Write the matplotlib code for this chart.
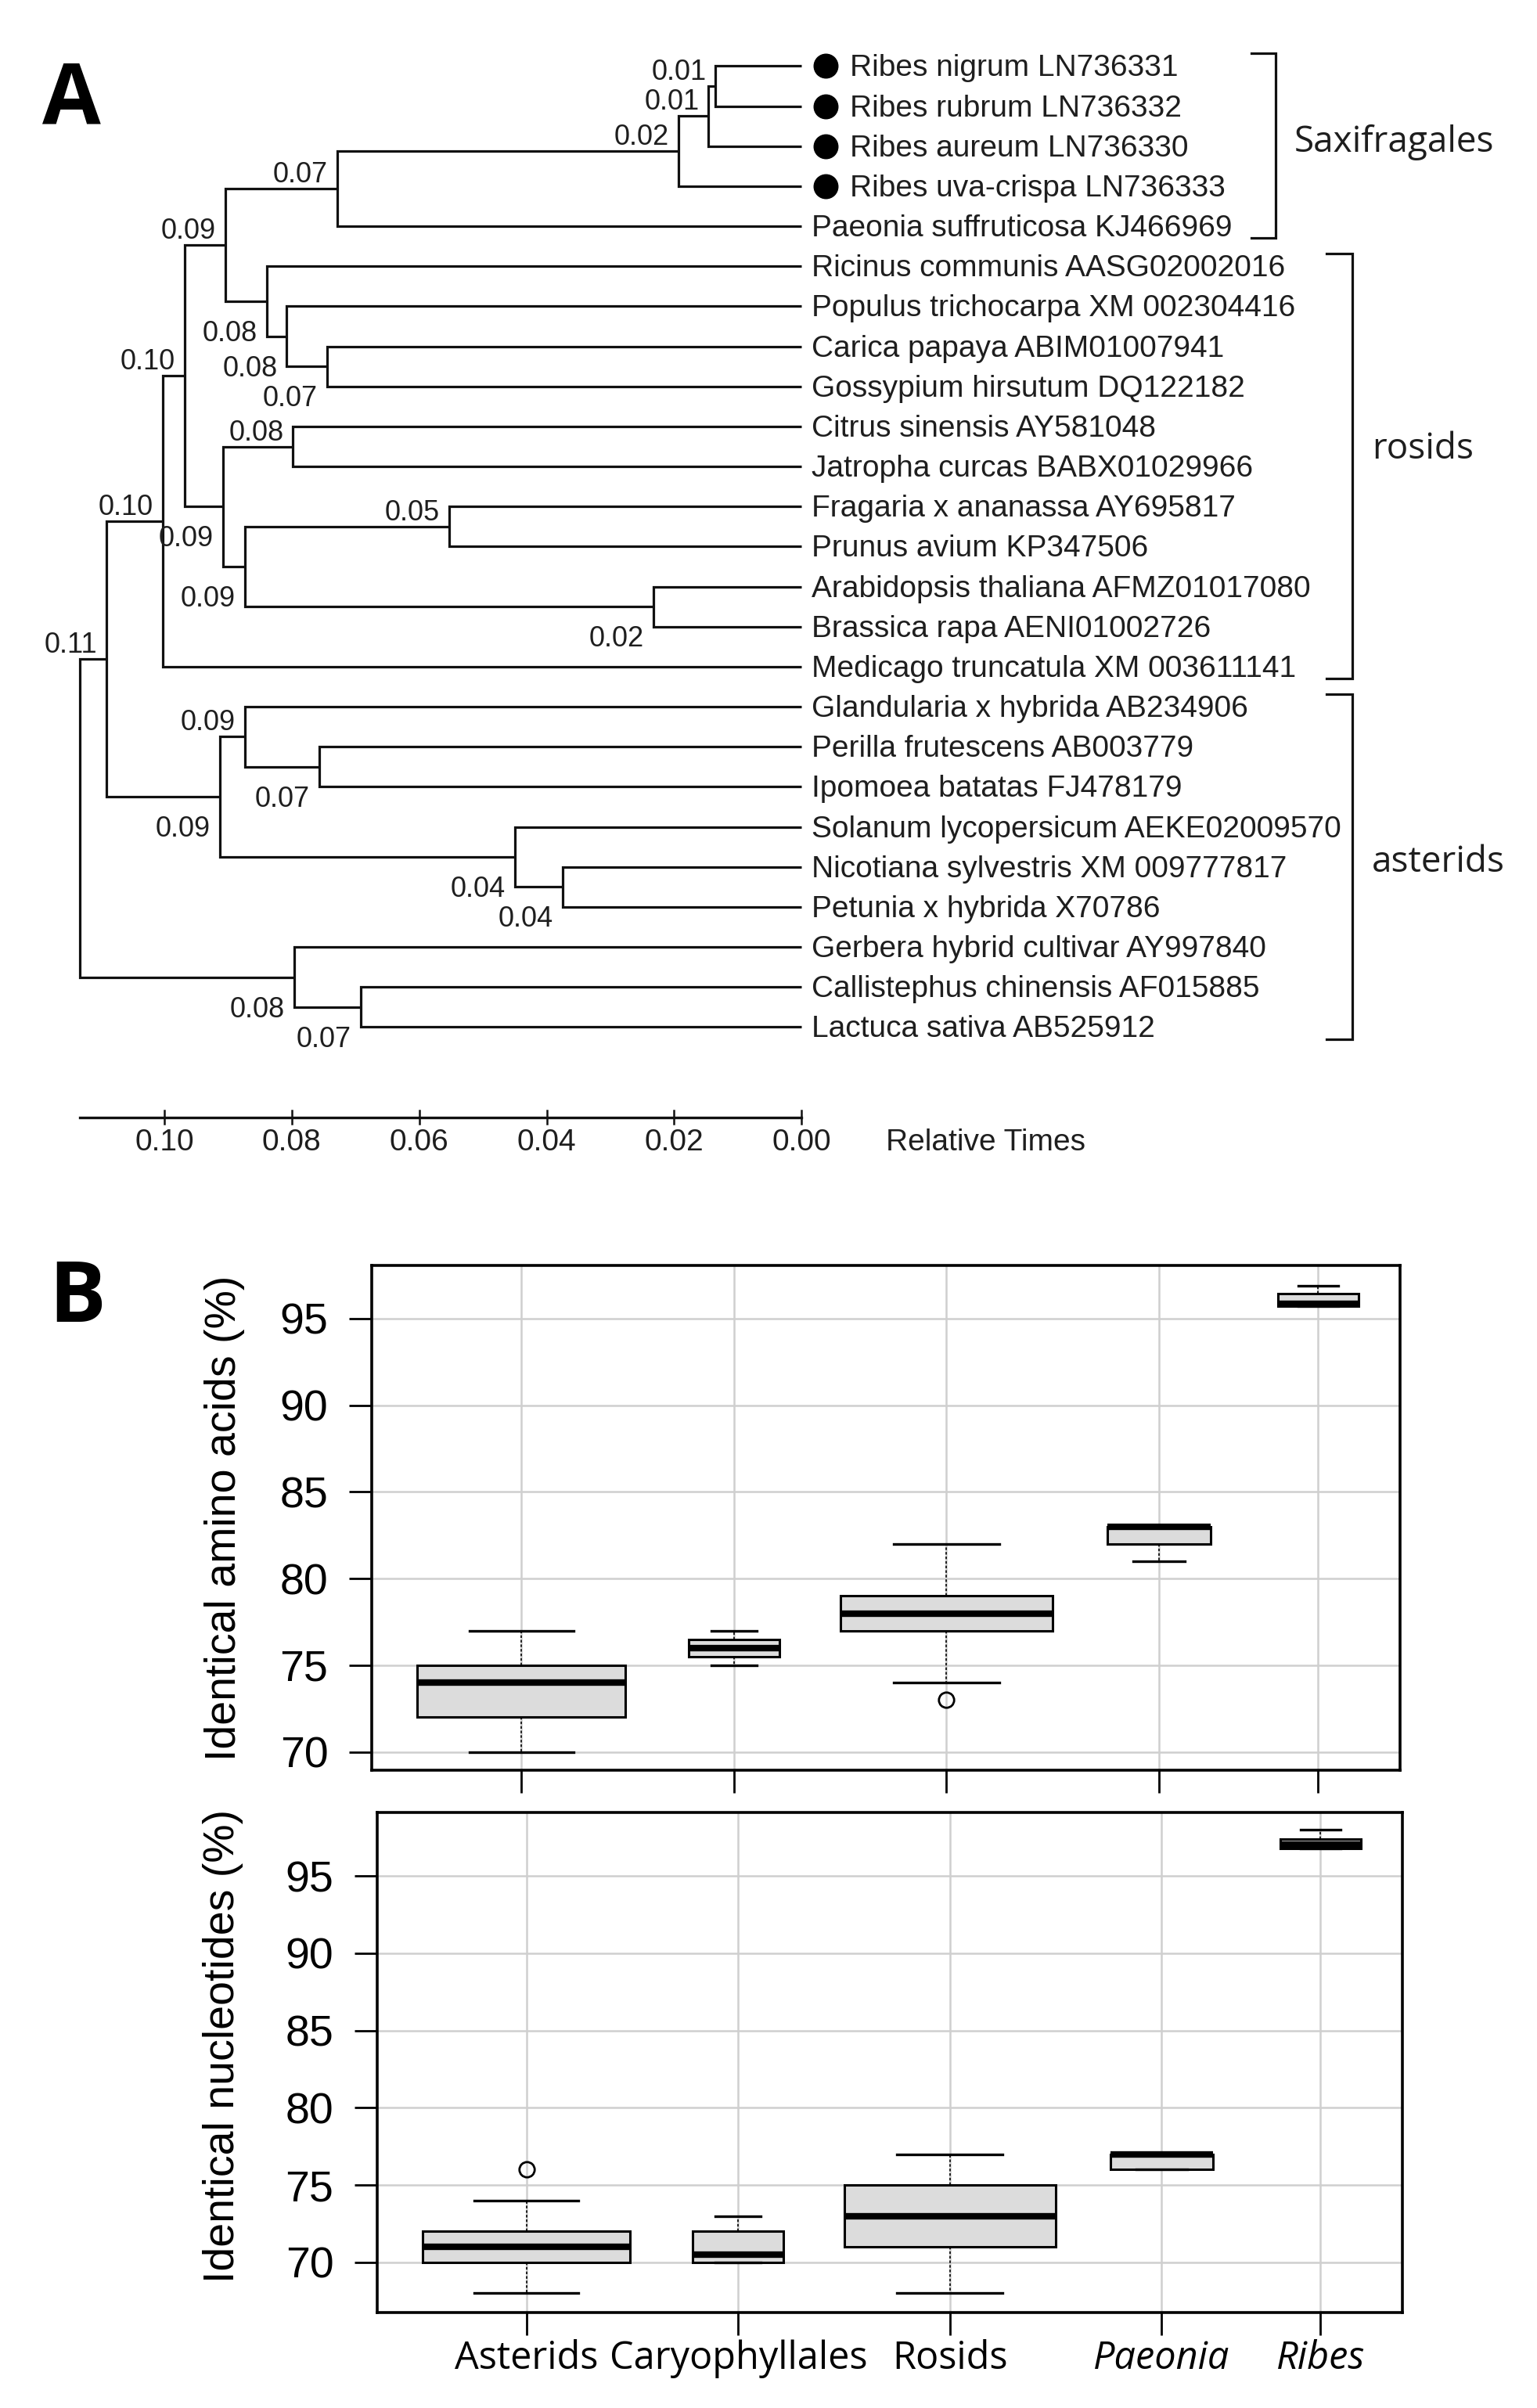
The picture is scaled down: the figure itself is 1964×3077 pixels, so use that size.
import matplotlib
matplotlib.use("Agg")
import matplotlib.pyplot as plt
from matplotlib.transforms import offset_copy

plt.rcParams["font.family"] = ["Liberation Sans", "DejaVu Sans"]

# ---------------- panel A: time tree ----------------
leaves = [
    "Ribes nigrum LN736331",
    "Ribes rubrum LN736332",
    "Ribes aureum LN736330",
    "Ribes uva-crispa LN736333",
    "Paeonia suffruticosa KJ466969",
    "Ricinus communis AASG02002016",
    "Populus trichocarpa XM 002304416",
    "Carica papaya ABIM01007941",
    "Gossypium hirsutum DQ122182",
    "Citrus sinensis AY581048",
    "Jatropha curcas BABX01029966",
    "Fragaria x ananassa AY695817",
    "Prunus avium KP347506",
    "Arabidopsis thaliana AFMZ01017080",
    "Brassica rapa AENI01002726",
    "Medicago truncatula XM 003611141",
    "Glandularia x hybrida AB234906",
    "Perilla frutescens AB003779",
    "Ipomoea batatas FJ478179",
    "Solanum lycopersicum AEKE02009570",
    "Nicotiana sylvestris XM 009777817",
    "Petunia x hybrida X70786",
    "Gerbera hybrid cultivar AY997840",
    "Callistephus chinensis AF015885",
    "Lactuca sativa AB525912",
]
marked_leaves = [0, 1, 2, 3]  # Ribes sequences (black dots)

# internal nodes, children listed before parents (ints = leaf index)
node_names = ["nr", "nra", "ribes", "sax", "car", "pop", "ric", "n4",
              "cit", "fra", "ara", "fp", "n5", "n3", "n2",
              "per", "gla", "pet", "sol", "ast", "n1", "cal", "ger", "root"]
node_kids = [(0, 1), ("nr", 2), ("nra", 3), ("ribes", 4), (7, 8), (6, "car"),
             (5, "pop"), ("sax", "ric"), (9, 10), (11, 12), (13, 14),
             ("fra", "ara"), ("cit", "fp"), ("n4", "n5"), ("n3", 15),
             (17, 18), (16, "per"), (20, 21), (19, "pet"), ("gla", "sol"),
             ("n2", "ast"), (23, 24), (22, "cal"), ("n1", "ger")]
node_ages = [0.0135, 0.0146, 0.0193, 0.0729, 0.0745, 0.0808, 0.0839, 0.0904,
             0.0798, 0.0553, 0.0232, 0.0874, 0.0908, 0.0968, 0.1003,
             0.0757, 0.0874, 0.0375, 0.0450, 0.0913, 0.1091, 0.0692, 0.0796,
             0.1133]
node_labels = ["0.01", "0.01", "0.02", "0.07", "0.07", "0.08", "0.08", "0.09",
               "0.08", "0.05", "0.02", "0.09", "0.09", "0.10", "0.10",
               "0.07", "0.09", "0.04", "0.04", "0.09", "0.11", "0.07", "0.08", ""]

group_names = ["Saxifragales", "rosids", "asterids"]
group_first = [0, 5, 16]
group_last = [4, 15, 24]

time_ticks = [0.10, 0.08, 0.06, 0.04, 0.02, 0.00]

# ---------------- panel B: box plots ----------------
groups = ["Asterids", "Caryophyllales", "Rosids", "Paeonia", "Ribes"]

aa_q1 = [72, 75.5, 77, 82, 95.7]
aa_med = [74, 76, 78, 83, 95.85]
aa_q3 = [75, 76.5, 79, 83, 96.45]
aa_lo = [70, 75, 74, 81, 95.7]
aa_hi = [77, 77, 82, 83, 96.9]
aa_out = [[], [], [73], [], []]

nt_q1 = [70, 70, 71, 76, 96.75]
nt_med = [71, 70.5, 73, 77, 97]
nt_q3 = [72, 72, 75, 77, 97.4]
nt_lo = [68, 70, 68, 76, 96.75]
nt_hi = [74, 73, 77, 77, 98]
nt_out = [[76], [], [], [], []]

# ---------------- layout ----------------
W, H, DPI = 1964, 3077, 100
fig = plt.figure(figsize=(W / DPI, H / DPI), dpi=DPI)

T0_PX, PX_PER_T = 1024.2, 8142.0   # x pixel of time 0, pixels per time unit
ROW0_PX, ROW_PX = 84.4, 51.17      # y pixel of first leaf, row spacing
TREE_H = 1500


def tx(px):
    return (T0_PX - px) / PX_PER_T


ax_t = fig.add_axes([0, 1 - TREE_H / H, 1, TREE_H / H])
ax_t.set_xlim(tx(0), tx(W))
ax_t.set_ylim((TREE_H - ROW0_PX) / ROW_PX, -ROW0_PX / ROW_PX)
ax_t.axis("off")

line_c = "#111111"
text_c = "#1e1e1e"

ypos = {i: float(i) for i in range(len(leaves))}
age = {i: 0.0 for i in range(len(leaves))}
for name, kids, a in zip(node_names, node_kids, node_ages):
    ypos[name] = (ypos[kids[0]] + ypos[kids[1]]) / 2
    age[name] = a

for name, (a, b) in zip(node_names, node_kids):
    ax_t.plot([age[a], age[name], age[name], age[b]],
              [ypos[a], ypos[a], ypos[b], ypos[b]],
              color=line_c, lw=2.3, solid_joinstyle="miter",
              solid_capstyle="butt")

label_below = [False, False, False, False, True, True, True, False,
               False, False, True, True, True, False, False,
               True, False, True, True, True, False, True, True, False]
tr_above = offset_copy(ax_t.transData, fig=fig, x=-12, y=8, units="dots")
tr_below = offset_copy(ax_t.transData, fig=fig, x=-12, y=-51, units="dots")
for name, lab, below in zip(node_names, node_labels, label_below):
    ax_t.text(age[name], ypos[name], lab, ha="right", va="baseline",
              fontsize=26, color=text_c,
              transform=tr_below if below else tr_above)

# leaf names
tr_leaf = offset_copy(ax_t.transData, fig=fig, x=13, y=-13, units="dots")
tr_leaf_dot = offset_copy(ax_t.transData, fig=fig, x=62, y=-13, units="dots")
tr_dot = offset_copy(ax_t.transData, fig=fig, x=31, y=0, units="dots")
for i, name in enumerate(leaves):
    marked = i in marked_leaves
    ax_t.text(0, i, name, ha="left", va="baseline", fontsize=28,
              color=text_c, transform=tr_leaf_dot if marked else tr_leaf)
    if marked:
        ax_t.plot(0, i, "o", color="black", markersize=22, transform=tr_dot)

# group brackets
bracket_px = [(1599, 1630, 1654), (1695, 1728, 1753), (1695, 1728, 1753)]
group_label_rows = [1.9, 9.57, 19.89]
for gname, first, last, (p_tick, p_vert, p_text), lrow in zip(
        group_names, group_first, group_last, bracket_px, group_label_rows):
    top, bot = first - 0.32, last + 0.3
    ax_t.plot([tx(p_tick), tx(p_vert), tx(p_vert), tx(p_tick)],
              [top, top, bot, bot], color=line_c, lw=2.3,
              solid_joinstyle="miter")
    ax_t.text(tx(p_text), lrow, gname, ha="left", va="center", fontsize=33,
              family="Open Sans", color=text_c)

# time scale
axis_row = 26.25
root_age = node_ages[-1]
ax_t.plot([root_age, 0], [axis_row, axis_row], color=line_c, lw=2.4)
tr_tick = offset_copy(ax_t.transData, fig=fig, x=0, y=-42, units="dots")
for v in time_ticks:
    ax_t.plot([v, v], [axis_row - 0.17, axis_row + 0.17], color=line_c, lw=1.8)
    ax_t.text(v, axis_row, f"{v:.2f}", ha="center", va="baseline",
              fontsize=28, color=text_c, transform=tr_tick)
ax_t.text(tx(1132), axis_row, "Relative Times", ha="left", va="baseline",
          fontsize=28, color=text_c, transform=tr_tick)

fig.text(54 / W, 1 - 157 / H, "A", ha="left", va="baseline", fontsize=78,
         fontweight="bold", family="Open Sans")
fig.text(62 / W, 1 - 1689 / H, "B", ha="left", va="baseline", fontsize=78,
         fontweight="bold", family="Open Sans")

# ---------------- box plots ----------------
group_pos = [1, 2, 3, 4, 4.75]
box_widths = [0.98, 0.43, 1.0, 0.485, 0.38]


def box_panel(rect, q1, med, q3, lo, hi, out, ylim, show_labels):
    ax = fig.add_axes(rect)
    stats = [dict(q1=a, med=m, q3=b, whislo=l, whishi=h, fliers=o)
             for a, m, b, l, h, o in zip(q1, med, q3, lo, hi, out)]
    ax.bxp(stats, positions=group_pos, widths=box_widths,
           capwidths=[w / 2 for w in box_widths], patch_artist=True,
           boxprops=dict(facecolor="#dcdcdc", edgecolor="black", linewidth=2.2),
           medianprops=dict(color="black", linewidth=6, solid_capstyle="butt"),
           whiskerprops=dict(color="black", linewidth=1.2,
                             linestyle=(0, (2, 1.5))),
           capprops=dict(color="black", linewidth=2.4),
           flierprops=dict(marker="o", markerfacecolor="none",
                           markeredgecolor="black", markersize=14,
                           markeredgewidth=2),
           zorder=3)
    ax.set_xlim(0.295, 5.135)
    ax.set_ylim(*ylim)
    ax.set_yticks([70, 75, 80, 85, 90, 95])
    ax.set_xticks(group_pos)
    ax.grid(True, color="#cfcfcf", lw=1.8)
    ax.set_axisbelow(True)
    for s in ax.spines.values():
        s.set_linewidth(2.6)
    ax.tick_params(direction="out", length=21, width=2, labelsize=40)
    ax.tick_params(axis="y", pad=19)
    ax.tick_params(axis="x", pad=4)
    if show_labels:
        ax.set_xticklabels(groups, fontsize=35, family="Open Sans")
        for t in ax.get_xticklabels()[3:]:
            t.set_style("italic")
    else:
        ax.set_xticklabels([])
    return ax


box_panel([475 / W, 1 - 2261.5 / H, (1789 - 475) / W, (2261.5 - 1617) / H],
          aa_q1, aa_med, aa_q3, aa_lo, aa_hi, aa_out, (68.97, 98.07), False)
box_panel([482 / W, 1 - 2955 / H, (1791.5 - 482) / W, (2955 - 2315.6) / H],
          nt_q1, nt_med, nt_q3, nt_lo, nt_hi, nt_out, (66.76, 99.12), True)

fig.text(287 / W, 1 - 1940 / H, "Identical amino acids (%)", rotation=90,
         ha="center", va="center", fontsize=40)
fig.text(285 / W, 1 - 2614 / H, "Identical nucleotides (%)", rotation=90,
         ha="center", va="center", fontsize=40)

fig.savefig("out.png", dpi=DPI, facecolor="white")
